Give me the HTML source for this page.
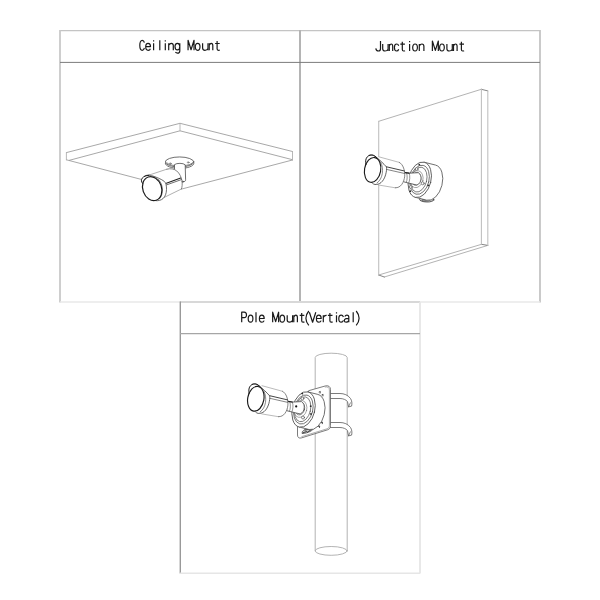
<!DOCTYPE html>
<html>
<head>
<meta charset="utf-8">
<title>Mount types</title>
<style>
html,body{margin:0;padding:0;background:#fff;}
body{width:600px;height:600px;overflow:hidden;font-family:"Liberation Sans",sans-serif;}
svg{display:block;position:absolute;left:0;top:0;}
</style>
</head>
<body>
<svg width="600" height="600" viewBox="0 0 600 600">
<rect width="600" height="600" fill="#fff"/>
<g id="frame" fill="none">
  <line x1="60" y1="30.7" x2="540" y2="30.7" stroke="#c4c4c4" stroke-width="1.3"/>
  <line x1="60" y1="30" x2="60" y2="302.5" stroke="#c9c9c9" stroke-width="1.8"/>
  <line x1="540" y1="30" x2="540" y2="302.5" stroke="#c4c4c4" stroke-width="1.8"/>
  <line x1="300" y1="30" x2="300" y2="302" stroke="#b4b4b4" stroke-width="2"/>
  <line x1="60" y1="62.4" x2="540" y2="62.4" stroke="#7c7c7c" stroke-width="1"/>
  <line x1="60" y1="302" x2="180" y2="302" stroke="#e9e9e9" stroke-width="1.6"/>
  <line x1="180" y1="302" x2="420" y2="302" stroke="#d8d8d8" stroke-width="1.8"/>
  <line x1="420" y1="302" x2="540" y2="302" stroke="#e9e9e9" stroke-width="1.6"/>
  <line x1="180.3" y1="301.5" x2="180.3" y2="573.5" stroke="#999" stroke-width="1.4"/>
  <line x1="420" y1="302" x2="420" y2="573.5" stroke="#e6e6e6" stroke-width="1.8"/>
  <line x1="180" y1="333.6" x2="420" y2="333.6" stroke="#a6a6a6" stroke-width="1.2"/>
  <line x1="180" y1="573.2" x2="420" y2="573.2" stroke="#e6e6e6" stroke-width="1.6"/>
</g>
<g id="labels" fill="none" stroke="#1a1a1a" stroke-width="1.2" stroke-linecap="butt" stroke-linejoin="round">
<path transform="translate(139.8,40.3)" d="M4.6,2.3C4.23,0.8,3.5,0,2.48,0C0.92,0,0,2,0,5C0,8,0.92,10,2.48,10C3.5,10,4.23,9.2,4.6,7.6"/>
<path transform="translate(145.7,40.3)" d="M0.1,6.3 H4.8 C4.8,4.2 3.9,3 2.4,3 C0.9,3 0,4.4 0,6.5 C0,8.6 0.9,10 2.5,10 C3.5,10 4.3,9.5 4.7,8.4"/>
<path transform="translate(153.6,40.3)" d="M0,3 V10 M0,0 V1.3"/>
<path transform="translate(159.8,40.3)" d="M0,0 V10"/>
<path transform="translate(165.3,40.3)" d="M0,3 V10 M0,0 V1.3"/>
<path transform="translate(168.7,40.3)" d="M0,3 V10 M0,4.9 C0.8,3.6 1.6,3 2.6,3 C4,3 4.6,3.9 4.6,5.3 V10"/>
<path transform="translate(175,40.3)" d="M4.8,3 V10.6 C4.8,12.2 3.9,12.8 2.5,12.8 C1.6,12.8 0.9,12.5 0.4,11.9 M4.8,6.3 C4.8,4.3 3.8,3 2.4,3 C0.9,3 0,4.3 0,6.3 C0,8.3 0.9,9.6 2.4,9.6 C3.8,9.6 4.8,8.3 4.8,6.3"/>
<path transform="translate(187.8,40.3)" d="M0.27,10V0L3.25,9.4L6.23,0V10"/>
<path transform="translate(195.3,40.3)" d="M2.35,3 C0.9,3 0,4.4 0,6.5 C0,8.6 0.9,10 2.35,10 C3.8,10 4.7,8.6 4.7,6.5 C4.7,4.4 3.8,3 2.35,3 Z"/>
<path transform="translate(202.6,40.3)" d="M0,3V7.8C0,9.2,0.86,10,2.33,10C3.56,10,4.66,9.4,5.4,8.2M5.4,3V10"/>
<path transform="translate(209.2,40.3)" d="M0,3V10M0,4.9C0.63,3.6,1.25,3,2.03,3C3.13,3,3.6,3.9,3.6,5.3V10"/>
<path transform="translate(214.2,40.3)" d="M2.9,0.8 V8.5 C2.9,9.6 3.4,10 4.2,10 C4.8,10 5.2,9.9 5.6,9.7 M0.9,3.2 H5.5"/>
<path transform="translate(375.8,41)" d="M4.7,0V7.4C4.7,9.2,3.86,10,2.52,10C1.09,10,0.17,9.1,0,7.4"/>
<path transform="translate(382.7,41)" d="M0,3V7.8C0,9.2,0.86,10,2.33,10C3.56,10,4.66,9.4,5.4,8.2M5.4,3V10"/>
<path transform="translate(389.3,41)" d="M0,3V10M0,4.9C0.59,3.6,1.18,3,1.92,3C2.96,3,3.4,3.9,3.4,5.3V10"/>
<path transform="translate(394.4,41)" d="M4.3,4.8C3.93,3.6,3.27,3,2.24,3C0.84,3,0,4.4,0,6.5C0,8.6,0.84,10,2.24,10C3.27,10,3.93,9.4,4.3,8.2"/>
<path transform="translate(399.4,41)" d="M2.9,0.8 V8.5 C2.9,9.6 3.4,10 4.2,10 C4.8,10 5.2,9.9 5.6,9.7 M0.9,3.2 H5.5"/>
<path transform="translate(409.6,41)" d="M0,3 V10 M0,0 V1.3"/>
<path transform="translate(412.7,41)" d="M2.35,3 C0.9,3 0,4.4 0,6.5 C0,8.6 0.9,10 2.35,10 C3.8,10 4.7,8.6 4.7,6.5 C4.7,4.4 3.8,3 2.35,3 Z"/>
<path transform="translate(419.3,41)" d="M0,3 V10 M0,4.9 C0.8,3.6 1.6,3 2.6,3 C4,3 4.6,3.9 4.6,5.3 V10"/>
<path transform="translate(432.1,41)" d="M0.27,10V0L3.25,9.4L6.23,0V10"/>
<path transform="translate(439.6,41)" d="M2.35,3 C0.9,3 0,4.4 0,6.5 C0,8.6 0.9,10 2.35,10 C3.8,10 4.7,8.6 4.7,6.5 C4.7,4.4 3.8,3 2.35,3 Z"/>
<path transform="translate(446.9,41)" d="M0,3V7.8C0,9.2,0.86,10,2.33,10C3.56,10,4.66,9.4,5.4,8.2M5.4,3V10"/>
<path transform="translate(453.5,41)" d="M0,3V10M0,4.9C0.63,3.6,1.25,3,2.03,3C3.13,3,3.6,3.9,3.6,5.3V10"/>
<path transform="translate(458.5,41)" d="M2.9,0.8 V8.5 C2.9,9.6 3.4,10 4.2,10 C4.8,10 5.2,9.9 5.6,9.7 M0.9,3.2 H5.5"/>
<path transform="translate(241.7,312.2)" d="M0,10V0H2.49C4,0,4.8,1,4.8,2.7C4.8,4.4,4,5.4,2.49,5.4H0"/>
<path transform="translate(248.2,312.2)" d="M2.35,3 C0.9,3 0,4.4 0,6.5 C0,8.6 0.9,10 2.35,10 C3.8,10 4.7,8.6 4.7,6.5 C4.7,4.4 3.8,3 2.35,3 Z"/>
<path transform="translate(256,312.2)" d="M0,0 V10"/>
<path transform="translate(259.4,312.2)" d="M0.1,6.3 H4.8 C4.8,4.2 3.9,3 2.4,3 C0.9,3 0,4.4 0,6.5 C0,8.6 0.9,10 2.5,10 C3.5,10 4.3,9.5 4.7,8.4"/>
<path transform="translate(272.4,312.2)" d="M0.27,10V0L3.25,9.4L6.23,0V10"/>
<path transform="translate(279.9,312.2)" d="M2.35,3 C0.9,3 0,4.4 0,6.5 C0,8.6 0.9,10 2.35,10 C3.8,10 4.7,8.6 4.7,6.5 C4.7,4.4 3.8,3 2.35,3 Z"/>
<path transform="translate(287.2,312.2)" d="M0,3V7.8C0,9.2,0.86,10,2.33,10C3.56,10,4.66,9.4,5.4,8.2M5.4,3V10"/>
<path transform="translate(293.8,312.2)" d="M0,3V10M0,4.9C0.63,3.6,1.25,3,2.03,3C3.13,3,3.6,3.9,3.6,5.3V10"/>
<path transform="translate(298.8,312.2)" d="M2.9,0.8 V8.5 C2.9,9.6 3.4,10 4.2,10 C4.8,10 5.2,9.9 5.6,9.7 M0.9,3.2 H5.5"/>
<path transform="translate(305.6,312.2)" d="M3.2,-1.2 C1,1.5 0.3,4 0.3,6 C0.3,8 1,10.5 3.2,13.2"/>
<path transform="translate(309.4,312.2)" d="M0,0 L3.2,10 L6.4,0"/>
<path transform="translate(316.4,312.2)" d="M0.1,6.3 H4.8 C4.8,4.2 3.9,3 2.4,3 C0.9,3 0,4.4 0,6.5 C0,8.6 0.9,10 2.5,10 C3.5,10 4.3,9.5 4.7,8.4"/>
<path transform="translate(323.3,312.2)" d="M0,3V10M0,5.2C0.69,3.7,1.65,3,3.3,3.2"/>
<path transform="translate(327,312.2)" d="M2.9,0.8 V8.5 C2.9,9.6 3.4,10 4.2,10 C4.8,10 5.2,9.9 5.6,9.7 M0.9,3.2 H5.5"/>
<path transform="translate(336.5,312.2)" d="M0,3 V10 M0,0 V1.3"/>
<path transform="translate(338.8,312.2)" d="M4.6,4.8 C4.2,3.6 3.5,3 2.4,3 C0.9,3 0,4.4 0,6.5 C0,8.6 0.9,10 2.4,10 C3.5,10 4.2,9.4 4.6,8.2"/>
<path transform="translate(344.3,312.2)" d="M0.5,4.4 C1,3.4 1.7,3 2.6,3 C3.9,3 4.5,3.7 4.5,5 V10 M4.5,6.1 C3,6.1 0,6.1 0,8.2 C0,9.4 0.8,10 1.9,10 C3,10 3.9,9.4 4.5,8.4"/>
<path transform="translate(353.2,312.2)" d="M0,0 V10"/>
<path transform="translate(356.2,312.2)" d="M0,-1.2 C2.2,1.5 2.9,4 2.9,6 C2.9,8 2.2,10.5 0,13.2"/>
</g>
<g id="ceiling" fill="none" stroke-linecap="round" stroke-linejoin="round">
  <!-- slab -->
  <g stroke="#989898" stroke-width="0.85">
    <path d="M66.4,152.6 L180,123.3 L292.5,151.5"/>
    <path d="M69.4,160.3 L180,130.8 L292.5,159.7"/>
    <path d="M66.4,159.8 L141.2,179.4"/>
    <path d="M292.5,160 L181.8,189"/>
  </g>
  <g stroke="#b0b0b0" stroke-width="0.9">
    <path d="M180,123.3 V130.8"/>
    <path d="M66.4,152.6 V159.8"/>
    <path d="M292.5,151.5 V160"/>
  </g>
  <!-- camera (white fill to hide slab edges behind) -->
  <g stroke="#4a4a4a" stroke-width="0.8">
    <!-- flange -->
    <path d="M165.3,163.4 C165.3,166.2 171.7,168.4 179.6,168.4 C187.5,168.4 193.9,166.2 193.9,163.4" fill="#fff"/>
    <ellipse cx="179.6" cy="162" rx="14.3" ry="5.05" fill="#fff"/>
    <path d="M166.8,162.7 C167.7,164.6 173,165.8 179.6,165.8 C186.2,165.8 191.5,164.6 192.5,162.7" stroke="#555" stroke-width="0.75"/>
    <ellipse cx="170.3" cy="163.5" rx="0.9" ry="0.6" stroke="#555" stroke-width="0.6"/>
    <ellipse cx="188.2" cy="162.4" rx="0.9" ry="0.6" stroke="#555" stroke-width="0.6"/>
    <!-- stem -->
    <path d="M174.75,164.4 C176.5,162.9 183.5,162.9 185.2,164.8 L185.6,179.8 C185.6,181.2 184.4,181.9 182.7,181.9 L174.75,175 Z" fill="#fff"/>
    <!-- body -->
    <path d="M147.5,175.6 L166.8,169.2 C170.5,168.1 174.3,168.9 176.8,171 C179.6,173.4 181.3,177 181.9,180.5 C182.5,184 182.2,187 181.4,189 L163,198 L150,196 Z" fill="#fff" stroke="none"/>
    <path d="M147.5,175.6 L166.8,169.2 M181.4,189 L163,198" stroke="#9c9c9c" stroke-width="0.8"/>
    <path d="M166.8,169.2 C170.5,168.1 174.3,168.9 176.8,171 C179.6,173.4 181.3,177 181.9,180.5 C182.5,184 182.2,187 181.4,189" stroke="#666"/>
    <!-- seam band -->
    <path d="M166.4,183.2 L180.7,178.1" stroke="#222" stroke-width="1.1"/>
    <path d="M166.5,184.9 L181.4,179.6"/>
    <circle cx="182.8" cy="181.6" r="0.7" stroke-width="0.6"/>
    <!-- hood back edge -->
    <path d="M144.7,176 C146.5,174.9 149,174.9 151.5,175.6 C156,176.9 161.5,179.2 164.3,181.4 C166,182.8 166.6,186 166.5,189.5 C166.4,193.5 165.2,196.6 163,198.6 C161,200.3 158.6,200.9 156,200.7" fill="#fff"/>
    <path d="M158,179 C160.6,181.5 162.2,185 162.4,189 C162.6,193 161.6,196.6 159.5,198.8" stroke="#555" stroke-width="0.7"/>
  </g>
  <!-- lens ring -->
  <g stroke="#1a1a1a">
    <ellipse cx="152.2" cy="188.6" rx="9.4" ry="12.3" transform="rotate(-19 152.2 188.6)" stroke-width="1.2" fill="#fff"/>
    <path d="M142.6,183.5 C141.2,181.8 141,179.8 142.2,178.2 C143.6,176.4 146,175.4 149,175.3" stroke-width="1"/>
  </g>
</g>
<g id="junction" fill="none" stroke-linecap="round" stroke-linejoin="round">
  <g stroke="#a0a0a0" stroke-width="0.8">
    <path d="M378.7,121.3 L481.3,89.3"/>
    <path d="M378.7,275 L481.5,244.3"/>
    <path d="M384.3,277 L487.8,245.4"/>
  </g>
  <g stroke="#777" stroke-width="0.9">
    <path d="M481.3,89.3 L487.8,90.9"/>
    <path d="M481.5,244.3 L487.8,245.4"/>
    <path d="M378.7,275 L384.3,277"/>
  </g>
  <g stroke="#c0c0c0" stroke-width="1.1">
    <path d="M378.7,121.3 V275"/>
    <path d="M481.4,89.3 V244.3"/>
    <path d="M487.8,90.9 V245.4"/>
  </g>
  <g stroke="#4a4a4a" stroke-width="0.8">
  <g transform="translate(0,0)">
    <ellipse cx="426.7" cy="199.6" rx="7.2" ry="2.4" transform="rotate(2 426.7 199.6)" fill="#d4d4d4" stroke="#3a3a3a" stroke-width="0.8"/>
    <ellipse cx="426.4" cy="199.9" rx="4.6" ry="1.3" transform="rotate(-8 426.4 199.9)" fill="#9a9a9a" stroke="#444" stroke-width="0.6"/>
    <path d="M424.18,162.24 L435.43,165.04 A11.2,18.1 14 0 1 426.68,200.17 L415.42,197.36 Z" fill="#fff"/>
    <ellipse cx="419.8" cy="179.8" rx="11.2" ry="18.1" transform="rotate(14 419.8 179.8)" fill="#fff"/>
    <ellipse cx="419.6" cy="179.8" rx="9.41" ry="14.84" transform="rotate(14 419.6 179.8)" stroke="#555" stroke-width="0.75"/>
    <ellipse cx="418.9" cy="179.6" rx="7.84" ry="12.67" transform="rotate(14 418.9 179.6)" stroke="#555" stroke-width="0.7"/>
    <ellipse cx="416.6" cy="179.2" rx="6.4" ry="8.6" transform="rotate(14 416.6 179.2)" stroke="#777" stroke-width="0.6"/>
    <ellipse cx="416.2" cy="178.9" rx="4.6" ry="6.4" transform="rotate(14 416.2 178.9)" stroke="#555" stroke-width="0.7" fill="#fff"/>
    <circle cx="416.7" cy="169" r="1.4" fill="#fff" stroke="#555" stroke-width="0.7"/>
    <circle cx="422.7" cy="183.3" r="1.5" fill="#fff" stroke="#555" stroke-width="0.7"/>
    <circle cx="410.8" cy="187" r="1.4" fill="#fff" stroke="#555" stroke-width="0.7"/>
    <circle cx="419.3" cy="164.7" r="0.9" fill="#2a2a2a" stroke="none"/>
    <circle cx="428.2" cy="185.3" r="0.9" fill="#2a2a2a" stroke="none"/>
    <circle cx="410.3" cy="191.2" r="0.9" fill="#2a2a2a" stroke="none"/>
  </g>
    <path d="M403.5,172.4 L409,173.2 L418.3,172.7 C420.5,174 421.3,176.5 421,179 C420.7,181.8 419.5,184 417,185 L413.7,184.3 L404,181.9 Z" fill="#fff"/>
    <path d="M409.2,173.3 C410.2,176 410,180.5 408.6,183.2" stroke="#666" stroke-width="0.7"/>
    <path d="M406.6,172.9 C407.6,176 407.3,180 406.2,182.5" stroke="#666" stroke-width="0.7"/>
    <path d="M403.5,172.3 L409,173.1" stroke="#222" stroke-width="1.2"/>
    <path d="M378.8,156.8 L399.3,162.4 C401,163.2 402.6,165.2 403.6,168 C404.5,170.6 404.9,173.5 404.7,176.2 C404.4,179.2 403.4,182.2 401.8,184.4 C400.2,186.6 398,187.9 395.3,187.8 L378.5,185 L370,180 L372,160 Z" fill="#fff" stroke="none"/>
    <path d="M378.8,156.8 L399.3,162.4 M395.3,187.8 L378.5,185" stroke="#a8a8a8" stroke-width="0.8"/>
    <path d="M399.3,162.4 C401,163.2 402.6,165.2 403.6,168 C404.5,170.6 404.9,173.5 404.7,176.2 C404.4,179.2 403.4,182.2 401.8,184.4 C400.2,186.6 398,187.9 395.3,187.8" stroke="#666" stroke-width="0.8"/>
    <path d="M386.5,166.8 L404.4,171" stroke="#444" stroke-width="1"/>
    <path d="M386.6,169.4 L404.6,173.5" stroke="#666" stroke-width="0.8"/>
    <path d="M369,155.3 C371,154.7 373,155 375.5,156.7 C379,159.3 383.5,163.5 386.5,167 C386.8,169 386.4,172 385.6,174.8 C384.7,178 383,181 381,182.6 C379.3,184 377.3,184.6 375,184.5 C374,184.4 373,183.8 372.3,183" fill="#fff" stroke="#3a3a3a"/>
    <path d="M380.7,162.2 C382.3,165 382.9,169.5 382.3,173.5 C381.7,177.5 379.8,181 377,183" stroke="#555" stroke-width="0.7"/>
  </g>
  <g stroke="#1a1a1a">
    <ellipse cx="372.6" cy="169.9" rx="8.1" ry="12.5" transform="rotate(10 372.6 169.9)" stroke-width="1.15" fill="#fff"/>
    <path d="M366,164.5 C365.2,161.5 365.6,158.5 367.5,156.6 C369,155.2 371,154.8 372.5,155 C374,155.3 375.5,156.5 377,157.8" stroke-width="1"/>
  </g>
</g>
<g id="pole" fill="none" stroke-linecap="round" stroke-linejoin="round">
  <g stroke="#aaaaaa" stroke-width="0.9">
    <path d="M315.2,550.8 V357.5 A16,4.3 0 0 1 347.2,357.5 V550.8"/>
    <ellipse cx="331.2" cy="550.9" rx="16" ry="4.4"/>
  </g>
  <g stroke="#5a5a5a" stroke-width="0.8">
    <path d="M330,393.5 H340 C344,393.5 348,395 350.5,398.5 C351.8,400.5 352.3,403.5 351.6,406.1 L348.5,406.9 L347.5,401.6 C346.3,399.8 343,398.5 340,398.5 H330 Z" fill="#fff"/>
    <path d="M348.5,406.9 L350.4,402.8" stroke-width="0.7"/>
    <path d="M330,422.5 H340 C344,422.5 348,424 350.5,427.5 C351.8,429.5 352.3,432.5 351.6,435.1 L348.5,435.9 L347.5,430.6 C346.3,428.8 343,427.5 340,427.5 H330 Z" fill="#fff"/>
    <path d="M348.5,435.9 L350.4,431.8" stroke-width="0.7"/>
    <path d="M309,390.6 L325.5,385.9 C328.5,385.2 330.5,386.8 330.5,389.6 V425.6 C330.5,427.8 329.6,429.2 327.6,429.8 L301.5,437.9 C299,438.6 297.5,437.4 297.5,435 V420 Z" fill="#fff"/>
    <path d="M325.2,387 C327.8,386.4 329.4,387.6 329.4,390 V425.2 C329.4,427.2 328.6,428.3 327,428.8 L301.8,436.6" stroke="#777" stroke-width="0.6"/>
    <path d="M319.1,392 l1.2,-0.5 l-0.2,1.6" stroke="#222" stroke-width="0.8"/>
    <path d="M321.9,394.9 l1.2,-0.5 l-0.2,1.6" stroke="#222" stroke-width="0.8"/>
    <path d="M321.3,422.6 l1.2,-0.5 l-0.2,1.6" stroke="#222" stroke-width="0.8"/>
    <path d="M318.5,426.4 l1.2,-0.5 l-0.2,1.6" stroke="#222" stroke-width="0.8"/>
    <path d="M302.5,431.5 C305,428 311,426.5 314.5,427.5 C313,430.5 308,433.3 302.5,433.5 Z" fill="#cfcfcf" stroke="#333" stroke-width="0.7"/>
    <path d="M303,432.8 L306.5,431.5 M305,430.2 L311,428.4 M307.5,432 L312,429.2" stroke="#222" stroke-width="0.8"/>
  </g>
  <g transform="translate(-116.8,228.9)">
  <g stroke="#4a4a4a" stroke-width="0.8">
  <g transform="translate(0.6,0.8)">
    <path d="M424.18,162.24 L434.08,164.71 A11.2,18.1 14 0 1 425.32,199.83 L415.42,197.36 Z" fill="#fff"/>
    <ellipse cx="419.8" cy="179.8" rx="11.2" ry="18.1" transform="rotate(14 419.8 179.8)" fill="#fff"/>
    <ellipse cx="419.6" cy="179.8" rx="9.41" ry="14.84" transform="rotate(14 419.6 179.8)" stroke="#555" stroke-width="0.75"/>
    <ellipse cx="418.9" cy="179.6" rx="7.84" ry="12.67" transform="rotate(14 418.9 179.6)" stroke="#555" stroke-width="0.7"/>
    <ellipse cx="416.6" cy="179.2" rx="6.4" ry="8.6" transform="rotate(14 416.6 179.2)" stroke="#777" stroke-width="0.6"/>
    <ellipse cx="416.2" cy="178.9" rx="4.6" ry="6.4" transform="rotate(14 416.2 178.9)" stroke="#555" stroke-width="0.7" fill="#fff"/>
    <circle cx="418.7" cy="168.8" r="1.4" fill="#fff" stroke="#555" stroke-width="0.7"/>
    <circle cx="419.2" cy="187.8" r="1.5" fill="#fff" stroke="#555" stroke-width="0.7"/>
    <circle cx="418.5" cy="163.8" r="0.9" fill="#2a2a2a" stroke="none"/>
    <circle cx="427.2" cy="184.3" r="0.9" fill="#2a2a2a" stroke="none"/>
    <circle cx="426.9" cy="176.5" r="0.9" fill="#2a2a2a" stroke="none"/>
  </g>
    <path d="M403.5,172.4 L409,173.2 L418.3,172.7 C420.5,174 421.3,176.5 421,179 C420.7,181.8 419.5,184 417,185 L413.7,184.3 L404,181.9 Z" fill="#fff"/>
    <path d="M409.2,173.3 C410.2,176 410,180.5 408.6,183.2" stroke="#666" stroke-width="0.7"/>
    <path d="M406.6,172.9 C407.6,176 407.3,180 406.2,182.5" stroke="#666" stroke-width="0.7"/>
    <path d="M403.5,172.3 L409,173.1" stroke="#222" stroke-width="1.2"/>
    <circle cx="413" cy="177.5" r="1.1" fill="#111" stroke="none"/>
    <path d="M378.8,156.8 L399.3,162.4 C401,163.2 402.6,165.2 403.6,168 C404.5,170.6 404.9,173.5 404.7,176.2 C404.4,179.2 403.4,182.2 401.8,184.4 C400.2,186.6 398,187.9 395.3,187.8 L378.5,185 L370,180 L372,160 Z" fill="#fff" stroke="none"/>
    <path d="M378.8,156.8 L399.3,162.4 M395.3,187.8 L378.5,185" stroke="#a8a8a8" stroke-width="0.8"/>
    <path d="M399.3,162.4 C401,163.2 402.6,165.2 403.6,168 C404.5,170.6 404.9,173.5 404.7,176.2 C404.4,179.2 403.4,182.2 401.8,184.4 C400.2,186.6 398,187.9 395.3,187.8" stroke="#666" stroke-width="0.8"/>
    <path d="M386.5,166.8 L404.4,171" stroke="#444" stroke-width="1"/>
    <path d="M386.6,169.4 L404.6,173.5" stroke="#666" stroke-width="0.8"/>
    <path d="M369,155.3 C371,154.7 373,155 375.5,156.7 C379,159.3 383.5,163.5 386.5,167 C386.8,169 386.4,172 385.6,174.8 C384.7,178 383,181 381,182.6 C379.3,184 377.3,184.6 375,184.5 C374,184.4 373,183.8 372.3,183" fill="#fff" stroke="#3a3a3a"/>
    <path d="M380.7,162.2 C382.3,165 382.9,169.5 382.3,173.5 C381.7,177.5 379.8,181 377,183" stroke="#555" stroke-width="0.7"/>
  </g>
  <g stroke="#1a1a1a">
    <ellipse cx="372.6" cy="169.9" rx="8.1" ry="12.5" transform="rotate(10 372.6 169.9)" stroke-width="1.15" fill="#fff"/>
    <path d="M366,164.5 C365.2,161.5 365.6,158.5 367.5,156.6 C369,155.2 371,154.8 372.5,155 C374,155.3 375.5,156.5 377,157.8" stroke-width="1"/>
  </g>
  </g>
</g>
</svg>
</body>
</html>
